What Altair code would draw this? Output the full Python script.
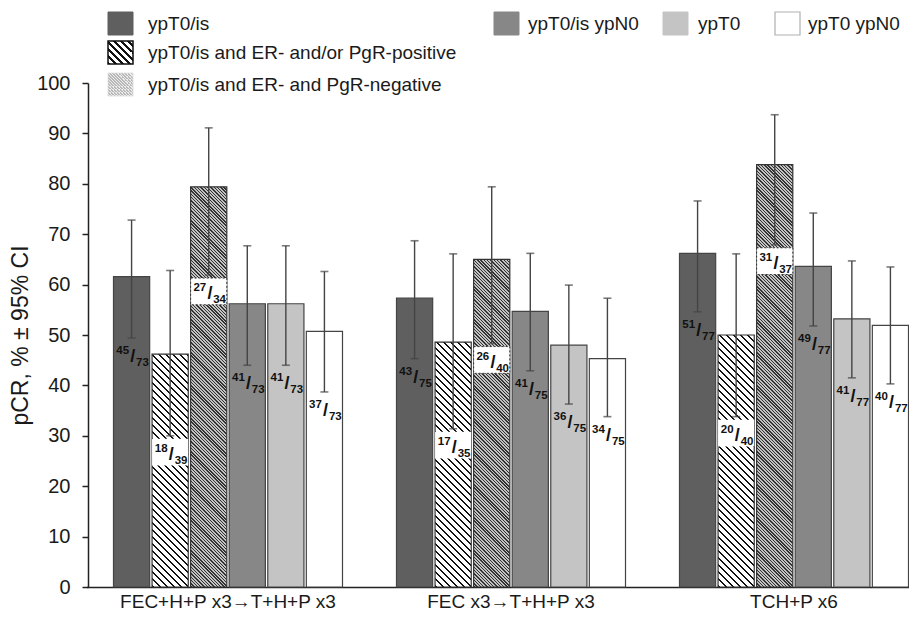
import math
import altair as alt
import pandas as pd

# ---------------- data ----------------
groups = ["FEC+H+P x3\u2192T+H+P x3", "FEC x3\u2192T+H+P x3", "TCH+P x6"]
series = [
    "ypT0/is",
    "ypT0/is and ER- and/or PgR-positive",
    "ypT0/is and ER- and PgR-negative",
    "ypT0/is ypN0",
    "ypT0",
    "ypT0 ypN0",
]
pct = [
    [61.6, 46.2, 79.4, 56.2, 56.2, 50.7],
    [57.3, 48.6, 65.0, 54.7, 48.0, 45.3],
    [66.2, 50.0, 83.8, 63.6, 53.2, 51.9],
]
ci_lo = [
    [49.4, 30.0, 61.9, 44.0, 44.0, 38.7],
    [45.3, 31.4, 48.3, 42.9, 36.3, 33.8],
    [54.6, 33.8, 67.9, 51.8, 41.5, 40.3],
]
ci_hi = [
    [72.8, 62.8, 91.1, 67.7, 67.7, 62.6],
    [68.7, 66.1, 79.4, 66.2, 59.9, 57.3],
    [76.6, 66.1, 93.7, 74.2, 64.7, 63.5],
]
num = [
    [45, 18, 27, 41, 41, 37],
    [43, 17, 26, 41, 36, 34],
    [51, 20, 31, 49, 41, 40],
]
den = [
    [73, 39, 34, 73, 73, 73],
    [75, 35, 40, 75, 75, 75],
    [77, 40, 37, 77, 77, 77],
]
y_ticks = [0, 10, 20, 30, 40, 50, 60, 70, 80, 90, 100]

rows = []
for gi, g in enumerate(groups):
    for si, s in enumerate(series):
        rows.append(dict(group=g, series=s, pct=pct[gi][si], lo=ci_lo[gi][si],
                         hi=ci_hi[gi][si], num=str(num[gi][si]), den=str(den[gi][si])))
df = pd.DataFrame(rows)

# ---------------- layout / style ----------------
W, H = 821, 504
X0, XR = -1.5, 847.5
PI, PO = 0.062, 0.70
step6 = ((XR - X0) / 3) / (6 - PI + 2 * PO)
BAR_W = step6 * (1 - PI)
PX_PER_UNIT = H / 100.0
FONT = "Liberation Sans"
INK = "#1a1a1a"
EDGE = "#444444"

solid_fill = {"ypT0/is": "#5f5f5f", "ypT0/is ypN0": "#878787", "ypT0": "#c4c4c4", "ypT0 ypN0": "#ffffff"}
HATCH_WIDE = dict(period=7.0, frac=0.3, dark="#111111", light="#ffffff")
HATCH_DENSE = dict(period=3.3, frac=0.42, dark="#333333", light="#c2c2c2")
HATCH_LEGEND_LIGHT = dict(period=3.0, frac=0.4, dark="#b8b8b8", light="#ececec")


def hatch(w, h, period, frac, dark, light):
    """Linear gradient that renders 45-degree '\\' stripes on a w x h box."""
    s = (w + h) / (w * w + h * h)
    n = (w + h) / period
    stops = []
    k = 0
    while k < n:
        a = k / n
        b = min((k + frac) / n, 1.0)
        c = min((k + 1) / n, 1.0)
        stops += [
            {"offset": a, "color": dark},
            {"offset": b, "color": dark},
            {"offset": b, "color": light},
            {"offset": c, "color": light},
        ]
        k += 1
    return {"gradient": "linear", "x1": 0, "y1": 1, "x2": s * w, "y2": 1 - s * h, "stops": stops}


x_enc = alt.X(
    "group:N",
    sort=groups,
    scale=alt.Scale(domain=groups, range=[X0, XR], paddingInner=0, paddingOuter=0),
    axis=alt.Axis(title=None, labelAngle=0, ticks=False, labelPadding=5, labelLimit=0,
                  labelFontSize=19, labelColor=INK, labelFont=FONT,
                  domainColor="#222222", domainWidth=1.5),
)
xo_enc = alt.XOffset("series:N", sort=series,
                     scale=alt.Scale(domain=series, paddingInner=PI, paddingOuter=PO))
y_scale = alt.Scale(domain=[0, 100], nice=False)
y_axis = alt.Axis(values=y_ticks, title="pCR, % \u00b1 95% CI", grid=False,
                  tickSize=6, tickWidth=1.5, tickColor="#222222",
                  domainColor="#222222", domainWidth=1.5,
                  labelFontSize=20, labelPadding=12, labelColor=INK, labelFont=FONT,
                  titleFontSize=23, titleFontWeight="normal", titleColor=INK,
                  titleFont=FONT, titlePadding=4)


def Y(field):
    return alt.Y(field, scale=y_scale, axis=y_axis, title="pCR, % \u00b1 95% CI")


base = alt.Chart(df)

solid = base.transform_filter(
    alt.FieldOneOfPredicate(field="series", oneOf=list(solid_fill.keys()))
).mark_bar(stroke=EDGE, strokeWidth=1.2).encode(
    x=x_enc, xOffset=xo_enc, y=Y("pct:Q"),
    fill=alt.Fill("series:N", scale=alt.Scale(domain=list(solid_fill.keys()),
                                              range=list(solid_fill.values())), legend=None),
)

layers = [solid]

for gi, g in enumerate(groups):
    for si, s in enumerate(series):
        if si not in (1, 2):
            continue
        style = HATCH_WIDE if si == 1 else HATCH_DENSE
        h = pct[gi][si] * PX_PER_UNIT
        grad = hatch(BAR_W, h, **style)
        layers.append(
            base.transform_filter((alt.datum.group == g) & (alt.datum.series == s))
            .mark_bar(fill=grad, stroke="#333333", strokeWidth=1.2)
            .encode(x=x_enc, xOffset=xo_enc, y=Y("pct:Q"))
        )

# error bars
layers.append(base.mark_rule(color=EDGE, strokeWidth=1.4).encode(
    x=x_enc, xOffset=xo_enc, y=Y("lo:Q"), y2="hi:Q"))
for fld in ("lo", "hi"):
    layers.append(base.mark_tick(color=EDGE, size=8, thickness=1.6).encode(
        x=x_enc, xOffset=xo_enc, y=Y(f"{fld}:Q")))

# white boxes behind labels on hatched bars
boxes = base.transform_calculate(bt="datum.lo - 0.6", bb="datum.lo - 5.9")
layers.append(boxes.transform_filter(alt.datum.series == series[1]).mark_bar(fill="white").encode(
    x=x_enc, xOffset=xo_enc, y=Y("bt:Q"), y2="bb:Q"))
layers.append(boxes.transform_filter(alt.datum.series == series[2]).mark_bar(
    fill="white", stroke="#333333", strokeWidth=1, strokeDash=[2, 2]).encode(
    x=x_enc, xOffset=xo_enc, y=Y("bt:Q"), y2="bb:Q"))

# fraction labels
lbl_common = dict(font=FONT, fontWeight="bold", color="#111111", baseline="middle")
layers.append(base.mark_text(align="right", dx=-2.5, dy=13, fontSize=11.5, **lbl_common).encode(
    x=x_enc, xOffset=xo_enc, y=Y("lo:Q"), text="num:N"))
layers.append(base.mark_text(align="center", dx=1.2, dy=19, fontSize=18, **lbl_common).encode(
    x=x_enc, xOffset=xo_enc, y=Y("lo:Q"), text=alt.value("/")))
layers.append(base.mark_text(align="left", dx=4.5, dy=25, fontSize=11.5, **lbl_common).encode(
    x=x_enc, xOffset=xo_enc, y=Y("lo:Q"), text="den:N"))

# ---------------- custom legend ----------------
one = alt.Data(values=[{"k": 1}])
SW, SH = 25, 23
legend_items = [
    # (series index, swatch x, swatch y top, text x)
    (0, 20, -71, 60),
    (1, 20, -42, 60),
    (2, 20, -10, 60),
    (3, 406, -71, 440),
    (4, 575, -71, 610),
    (5, 687, -71, 720),
]
for si, sx, sy, tx in legend_items:
    if si == 1:
        fill, stroke, sw = hatch(SW, SH, **HATCH_WIDE), "#111111", 1.5
    elif si == 2:
        fill, stroke, sw = hatch(SW, SH, **HATCH_LEGEND_LIGHT), "#dddddd", 0.8
    elif si == 5:
        fill, stroke, sw = "#ffffff", "#b0b0b0", 1.2
    else:
        fill, stroke, sw = solid_fill[series[si]], solid_fill[series[si]], 1
    layers.append(alt.Chart(one).mark_rect(fill=fill, stroke=stroke, strokeWidth=sw).encode(
        x=alt.value(sx), x2=alt.value(sx + SW), y=alt.value(sy), y2=alt.value(sy + SH)))
    layers.append(alt.Chart(one).mark_text(
        text=series[si], align="left", baseline="middle", fontSize=19, font=FONT, color=INK
    ).encode(x=alt.value(tx), y=alt.value(sy + SH / 2)))

chart = alt.layer(*layers).properties(
    width=W, height=H,
    autosize=alt.AutoSizeParams(type="none"),
    padding={"left": 80, "top": 75, "right": 0, "bottom": 25},
).configure(font=FONT, view=alt.ViewConfig(stroke=None))

chart.save("out.html", embed_options={"renderer": "svg", "actions": False})
